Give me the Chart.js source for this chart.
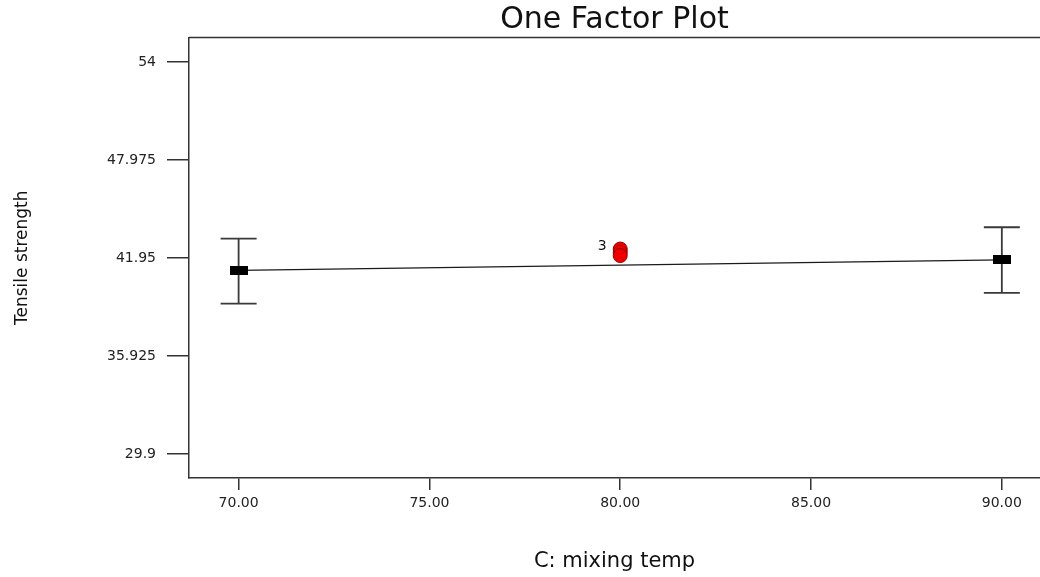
<!DOCTYPE html>
<html><head><meta charset="utf-8">
<script src="https://cdn.jsdelivr.net/npm/chart.js@4.4.0/dist/chart.umd.min.js"></script>
<style>html,body{margin:0;padding:0;background:#fff}#wrap{width:1040px;height:577px}</style>
</head>
<body><div id="wrap"><canvas id="c" width="1040" height="577"></canvas></div>
<script>
const factorLevels = [70, 90];
const meanPredictions = [41.19, 41.83];
const lowerBars = [39.14, 39.80];
const upperBars = [43.14, 43.84];
const centerRunX = [80, 80, 80];
const centerRunY = [42.5, 42.3, 42.1];
const centerRunLabel = '3';
const yTickValues = [29.9, 35.925, 41.95, 47.975, 54];
const yTickLabels = ['29.9', '35.925', '41.95', '47.975', '54'];
const xTickValues = [70, 75, 80, 85, 90];
const xTickLabels = ['70.00', '75.00', '80.00', '85.00', '90.00'];

const FONT = "'DejaVu Sans', 'Liberation Sans', sans-serif";
const AXIS = '#333333';

// rectangular black marker
const rectMarker = document.createElement('canvas');
rectMarker.width = 18; rectMarker.height = 9;
{ const g = rectMarker.getContext('2d'); g.fillStyle = '#000'; g.fillRect(0, 0, 18, 9); }

const errorBarPlugin = {
  id: 'errorBars',
  beforeDatasetsDraw(chart) {
    const {ctx, scales: {x, y}} = chart;
    ctx.save();
    ctx.strokeStyle = '#3a3a3a';
    ctx.lineWidth = 1.8;
    factorLevels.forEach((lv, i) => {
      const px = x.getPixelForValue(lv);
      const pLo = y.getPixelForValue(lowerBars[i]);
      const pHi = y.getPixelForValue(upperBars[i]);
      ctx.beginPath();
      ctx.moveTo(px, pLo); ctx.lineTo(px, pHi);
      ctx.moveTo(px - 18, pLo); ctx.lineTo(px + 18, pLo);
      ctx.moveTo(px - 18, pHi); ctx.lineTo(px + 18, pHi);
      ctx.stroke();
    });
    ctx.restore();
  },
  afterDatasetsDraw(chart) {
    const {ctx} = chart;
    const meta = chart.getDatasetMeta(1);
    const pt = meta.data[0];
    ctx.save();
    ctx.fillStyle = '#111';
    ctx.font = "14px " + FONT;
    ctx.textAlign = 'center';
    ctx.textBaseline = 'middle';
    ctx.fillText(centerRunLabel, pt.x - 18, pt.y - 3);
    ctx.restore();
  },
  afterDraw(chart) {
    const {ctx, chartArea} = chart;
    ctx.save();
    ctx.strokeStyle = AXIS;
    ctx.lineWidth = 1.5;
    ctx.beginPath();
    ctx.moveTo(chartArea.left, chartArea.top);
    ctx.lineTo(chartArea.right, chartArea.top);
    ctx.stroke();
    ctx.restore();
  }
};

new Chart(document.getElementById('c'), {
  data: {
    datasets: [
      {
        type: 'line',
        data: factorLevels.map((v, i) => ({x: v, y: meanPredictions[i]})),
        borderColor: '#1a1a1a',
        borderWidth: 1.2,
        pointStyle: rectMarker,
        pointRadius: 5,
        fill: false,
        tension: 0
      },
      {
        type: 'scatter',
        data: centerRunX.map((v, i) => ({x: v, y: centerRunY[i]})),
        pointRadius: 7,
        backgroundColor: '#ee0000',
        borderColor: '#990000',
        borderWidth: 1
      }
    ]
  },
  options: {
    responsive: false,
    animation: false,
    events: [],
    layout: {padding: 0, autoPadding: false},
    plugins: {
      legend: {display: false},
      tooltip: {enabled: false},
      title: {
        display: true,
        text: 'One Factor Plot',
        fullSize: false,
        color: '#111',
        font: {family: FONT, size: 30, weight: 'normal', lineHeight: 35 / 30},
        padding: {top: 2.5, bottom: 0}
      }
    },
    scales: {
      x: {
        type: 'linear',
        position: 'bottom',
        min: 68.7,
        max: 91.0,
        afterBuildTicks: s => { s.ticks = xTickValues.map(v => ({value: v})); },
        afterFit: s => { s.height = 99; s.paddingLeft = 0; s.paddingRight = 0; },
        ticks: {
          autoSkip: false, maxRotation: 0, padding: 5, color: '#222',
          font: {family: FONT, size: 14},
          callback: (v, i) => xTickLabels[i]
        },
        grid: {drawOnChartArea: false, drawTicks: true, tickLength: 12, color: AXIS, lineWidth: 1.5},
        border: {display: true, color: AXIS, width: 1.5},
        title: {
          display: true, text: 'C: mixing temp', color: '#111',
          font: {family: FONT, size: 21, lineHeight: 1.2},
          padding: {top: 0, bottom: 3}
        }
      },
      y: {
        type: 'linear',
        position: 'left',
        min: 28.42,
        max: 55.51,
        afterBuildTicks: s => { s.ticks = yTickValues.map(v => ({value: v})); },
        afterFit: s => { s.width = 189; s.paddingTop = 0; s.paddingBottom = 0; },
        ticks: {
          autoSkip: false, padding: 11, color: '#222',
          font: {family: FONT, size: 14},
          callback: (v, i) => yTickLabels[i]
        },
        grid: {drawOnChartArea: false, drawTicks: true, tickLength: 22, color: AXIS, lineWidth: 1.5},
        border: {display: true, color: AXIS, width: 1.5},
        title: {
          display: true, text: 'Tensile strength', color: '#111',
          font: {family: FONT, size: 17, lineHeight: 1.2},
          padding: {top: 12, bottom: 0}
        }
      }
    }
  },
  plugins: [errorBarPlugin]
});
</script>
</body></html>
